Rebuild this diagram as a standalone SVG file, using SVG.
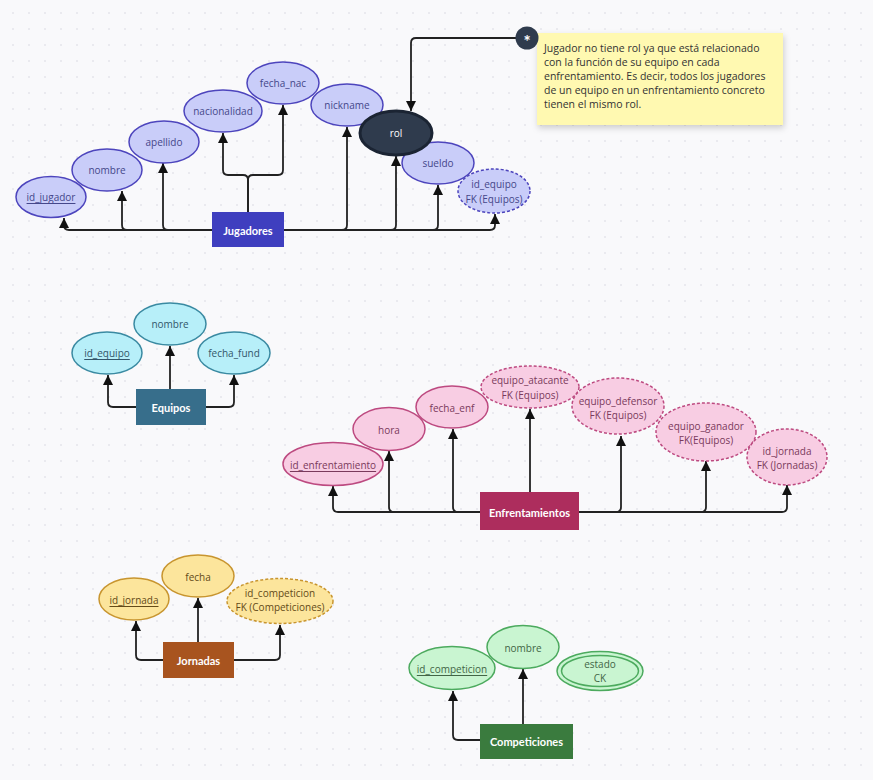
<svg xmlns="http://www.w3.org/2000/svg" width="873" height="780" viewBox="0 0 873 780">
  <style>
    .attr { font-family: "Open Sans", "Noto Sans", sans-serif; font-size: 10px; text-anchor: middle; dominant-baseline: central; }
    .ent { font-family: Lato, "Open Sans", sans-serif; font-size: 11px; font-weight: bold; fill: #ffffff; text-anchor: middle; dominant-baseline: central; }
    .conn { fill: none; stroke: #222222; stroke-width: 1.8; marker-end: url(#tip); }
    .dash { stroke-dasharray: 3 2; }
    .jug ellipse { fill: #c9cdf9; stroke: #4d45bd; stroke-width: 1.5; }
    .jug text.attr { fill: #45478a; }
    .equ ellipse { fill: #b7eff9; stroke: #3a8aa2; stroke-width: 1.5; }
    .equ text.attr { fill: #32566a; }
    .enf ellipse { fill: #f8cde3; stroke: #bd4a80; stroke-width: 1.5; }
    .enf text.attr { fill: #7a3a5c; }
    .jor ellipse { fill: #fce59c; stroke: #c8952f; stroke-width: 1.5; }
    .jor text.attr { fill: #634a18; }
    .com ellipse { fill: #c9f5d1; stroke: #4caa5e; stroke-width: 1.5; }
    .com text.attr { fill: #426546; }
    .note { font-family: "Open Sans", "Noto Sans", sans-serif; font-size: 10.5px; fill: #333333; }
  </style>
  <defs>
    <pattern id="dots" x="5" y="5" width="16" height="16" patternUnits="userSpaceOnUse">
      <circle cx="8" cy="8" r="0.8" fill="#d6d6de"/>
    </pattern>
    <marker id="tip" viewBox="0 0 10 10" refX="10" refY="5" markerWidth="10" markerHeight="10" markerUnits="userSpaceOnUse" orient="auto">
      <path d="M0,0 L10,5 L0,10 z" fill="#111111"/>
    </marker>
    <filter id="shadow" x="-10%" y="-10%" width="130%" height="140%">
      <feDropShadow dx="1" dy="3" stdDeviation="3" flood-color="#000000" flood-opacity="0.18"/>
    </filter>
  </defs>

  <rect width="873" height="780" fill="#f9f9fb"/>
  <rect width="873" height="780" fill="url(#dots)"/>

  <!-- connectors -->
  <g id="connectors">
    <!-- Jugadores -->
    <path class="conn" d="M212,230 H69 Q64,230 64,225 V218"/>
    <path class="conn" d="M212,230 H127 Q122,230 122,225 V191"/>
    <path class="conn" d="M212,230 H168 Q163,230 163,225 V163"/>
    <path class="conn" d="M248,212 V180 Q248,175 243,175 H228 Q223,175 223,170 V133"/>
    <path class="conn" d="M248,212 V180 Q248,175 253,175 H278 Q283,175 283,170 V105"/>
    <path class="conn" d="M284,230 H342 Q347,230 347,225 V127"/>
    <path class="conn" d="M284,230 H391 Q396,230 396,225 V156"/>
    <path class="conn" d="M284,230 H433 Q438,230 438,225 V185"/>
    <path class="conn" d="M284,230 H490 Q495,230 495,225 V214"/>
    <path class="conn" d="M516,38 H416 Q411,38 411,43 V111"/>
    <!-- Equipos -->
    <path class="conn" d="M136,407 H113 Q108,407 108,402 V375"/>
    <path class="conn" d="M170,389 V346"/>
    <path class="conn" d="M206,407 H229 Q234,407 234,402 V375"/>
    <!-- Enfrentamientos -->
    <path class="conn" d="M480,512 H338 Q333,512 333,507 V486"/>
    <path class="conn" d="M480,512 H394 Q389,512 389,507 V451"/>
    <path class="conn" d="M480,512 H458 Q453,512 453,507 V429"/>
    <path class="conn" d="M530,492 V409"/>
    <path class="conn" d="M579,512 H616 Q621,512 621,507 V436"/>
    <path class="conn" d="M579,512 H701 Q706,512 706,507 V461"/>
    <path class="conn" d="M579,512 H782 Q787,512 787,507 V485"/>
    <!-- Jornadas -->
    <path class="conn" d="M163,660 H141 Q136,660 136,655 V621"/>
    <path class="conn" d="M198,642 V598"/>
    <path class="conn" d="M234,660 H275 Q280,660 280,655 V625"/>
    <!-- Competiciones -->
    <path class="conn" d="M480,740 H458 Q453,740 453,735 V691"/>
    <path class="conn" d="M523,724 V669"/>
  </g>

  <!-- Jugadores -->
  <g id="jugadores" class="jug">
    <ellipse cx="51" cy="197" rx="35" ry="20.5"/>
    <text class="attr" x="51" y="197" text-decoration="underline">id_jugador</text>
    <ellipse cx="107" cy="170" rx="35" ry="21"/>
    <text class="attr" x="107" y="170">nombre</text>
    <ellipse cx="164" cy="142" rx="35" ry="21"/>
    <text class="attr" x="164" y="142">apellido</text>
    <ellipse cx="223" cy="111" rx="39" ry="21"/>
    <text class="attr" x="223" y="111">nacionalidad</text>
    <ellipse cx="283" cy="83" rx="36" ry="21"/>
    <text class="attr" x="283" y="83">fecha_nac</text>
    <ellipse cx="347" cy="105" rx="36" ry="21"/>
    <text class="attr" x="347" y="105">nickname</text>
    <ellipse cx="438" cy="163" rx="36" ry="21"/>
    <text class="attr" x="438" y="163">sueldo</text>
    <ellipse class="dash" cx="494" cy="191" rx="36" ry="22"/>
    <text class="attr" x="494" y="184">id_equipo</text>
    <text class="attr" x="494" y="199">FK (Equipos)</text>
    <rect x="212" y="212" width="72" height="35" fill="#3f3fbf"/>
    <text class="ent" x="248" y="230">Jugadores</text>
  </g>

  <!-- rol attribute (dark) -->
  <g id="rol">
    <ellipse cx="396" cy="133" rx="36" ry="22" fill="#2f3b4d" stroke="#1b2433" stroke-width="3"/>
    <text class="attr" x="396" y="133" fill="#ffffff">rol</text>
  </g>

  <!-- note -->
  <g id="nota">
    <rect x="537" y="33" width="246" height="92" fill="#fff9b1" filter="url(#shadow)"/>
    <text class="note" x="544" y="52">Jugador no tiene rol ya que está relacionado</text>
    <text class="note" x="544" y="66">con la función de su equipo en cada</text>
    <text class="note" x="544" y="80">enfrentamiento. Es decir, todos los jugadores</text>
    <text class="note" x="544" y="94">de un equipo en un enfrentamiento concreto</text>
    <text class="note" x="544" y="108">tienen el mismo rol.</text>
    <circle cx="527" cy="38" r="11.5" fill="#2f3b4d"/>
    <text x="527" y="47.5" font-family="Lato, sans-serif" font-size="17" font-weight="bold" fill="#ffffff" text-anchor="middle">*</text>
  </g>

  <!-- Equipos -->
  <g id="equipos" class="equ">
    <ellipse cx="107" cy="353" rx="35" ry="21"/>
    <text class="attr" x="107" y="353" text-decoration="underline">id_equipo</text>
    <ellipse cx="170" cy="324" rx="36" ry="21"/>
    <text class="attr" x="170" y="324">nombre</text>
    <ellipse cx="234" cy="353" rx="36" ry="21"/>
    <text class="attr" x="234" y="353">fecha_fund</text>
    <rect x="136" y="389" width="70" height="36" fill="#376e8b"/>
    <text class="ent" x="171" y="407">Equipos</text>
  </g>

  <!-- Enfrentamientos -->
  <g id="enfrentamientos" class="enf">
    <ellipse cx="333" cy="464" rx="50" ry="21.5"/>
    <text class="attr" x="333" y="465" text-decoration="underline">id_enfrentamiento</text>
    <ellipse cx="389" cy="429" rx="36" ry="21.5"/>
    <text class="attr" x="389" y="430">hora</text>
    <ellipse cx="452" cy="407" rx="36" ry="21"/>
    <text class="attr" x="452" y="408">fecha_enf</text>
    <ellipse class="dash" cx="530" cy="387" rx="49" ry="21"/>
    <text class="attr" x="530" y="380">equipo_atacante</text>
    <text class="attr" x="530" y="395">FK (Equipos)</text>
    <ellipse class="dash" cx="618" cy="406" rx="46" ry="28"/>
    <text class="attr" x="618" y="401">equipo_defensor</text>
    <text class="attr" x="618" y="415">FK (Equipos)</text>
    <ellipse class="dash" cx="706" cy="432" rx="50" ry="29"/>
    <text class="attr" x="706" y="426">equipo_ganador</text>
    <text class="attr" x="706" y="440">FK(Equipos)</text>
    <ellipse class="dash" cx="787" cy="457" rx="40" ry="28"/>
    <text class="attr" x="787" y="451">id_jornada</text>
    <text class="attr" x="787" y="465">FK (Jornadas)</text>
    <rect x="480" y="492" width="99" height="38" fill="#ad2d5d"/>
    <text class="ent" x="529.5" y="512">Enfrentamientos</text>
  </g>

  <!-- Jornadas -->
  <g id="jornadas" class="jor">
    <ellipse cx="134" cy="599" rx="35" ry="21"/>
    <text class="attr" x="134" y="600" text-decoration="underline">id_jornada</text>
    <ellipse cx="198" cy="576" rx="36" ry="21"/>
    <text class="attr" x="198" y="577">fecha</text>
    <ellipse class="dash" cx="280" cy="601" rx="53" ry="22.5"/>
    <text class="attr" x="280" y="593">id_competicion</text>
    <text class="attr" x="280" y="607">FK (Competiciones)</text>
    <rect x="163" y="642" width="71" height="36" fill="#a8541f"/>
    <text class="ent" x="198.5" y="660">Jornadas</text>
  </g>

  <!-- Competiciones -->
  <g id="competiciones" class="com">
    <ellipse cx="452" cy="668" rx="43" ry="21.5"/>
    <text class="attr" x="452" y="669" text-decoration="underline">id_competicion</text>
    <ellipse cx="523" cy="647" rx="36" ry="21.5"/>
    <text class="attr" x="523" y="648">nombre</text>
    <ellipse cx="600" cy="671" rx="43" ry="19.5"/>
    <ellipse cx="600" cy="671" rx="38.5" ry="15.5"/>
    <text class="attr" x="600" y="664">estado</text>
    <text class="attr" x="600" y="678">CK</text>
    <rect x="480" y="724" width="93" height="35" fill="#3a7b3e"/>
    <text class="ent" x="526.5" y="741">Competiciones</text>
  </g>
</svg>
